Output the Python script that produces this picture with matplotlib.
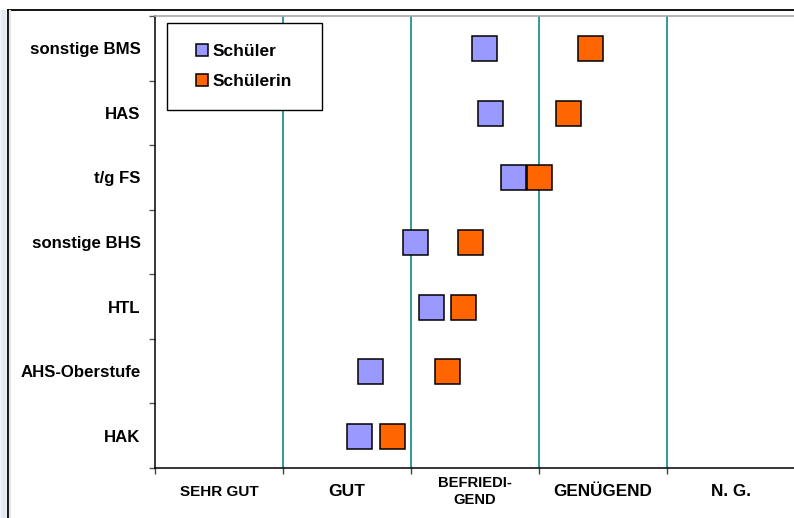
import numpy as np
import matplotlib
matplotlib.use("Agg")
import matplotlib.pyplot as plt
from matplotlib.lines import Line2D

# School types (bottom to top) and mean grades per group
schools = ["HAK", "AHS-Oberstufe", "HTL", "sonstige BHS", "t/g FS", "HAS", "sonstige BMS"]
schueler = [2.59, 2.68, 3.16, 3.03, 3.80, 3.62, 3.57]
schuelerin = [2.85, 3.28, 3.41, 3.46, 4.00, 4.23, 4.40]

grade_labels = ["SEHR GUT", "GUT", "BEFRIEDI-\nGEND", "GENÜGEND", "N. G."]
grade_label_sizes = [11, 12.6, 10.6, 12.3, 12.3]

W, H = 794, 518
fig = plt.figure(figsize=(W / 100, H / 100), dpi=100)

# slide frame and soft shading on the left edge
shade = fig.add_axes([0, 0, 7 / W, 1 - 10 / H])
grad = np.linspace(0, 1, 32)[None, :]
shade.imshow(grad, aspect="auto", cmap=matplotlib.colors.LinearSegmentedColormap.from_list(
    "edge", ["#f4f6fa", "#dfe4ee", "#eef1f7"]), extent=[0, 1, 0, 1])
shade.axis("off")
fig.add_artist(Line2D([7.5 / W, 1], [1 - 9.5 / H, 1 - 9.5 / H], color="black", lw=1.3))
fig.add_artist(Line2D([7.5 / W, 7.5 / W], [0, 1 - 9.5 / H], color="black", lw=1.3))
fig.add_artist(Line2D([9.5 / W, 9.5 / W], [0, 1 - 11 / H], color="#e6e6e6", lw=1.5))

ax = fig.add_axes([155 / W, 1 - 468 / H, 640 / W, 452 / H])
ax.set_xlim(1, 6)
ax.set_ylim(-0.5, len(schools) - 0.5)

# vertical grade separators
for g in range(2, 6):
    ax.axvline(g, color="#2e9c9a", lw=1.4, zorder=1)

ypos = np.arange(len(schools))
ax.plot(schueler, ypos, ls="none", marker="s", ms=18, mfc="#9999FF", mec="black",
        mew=1.1, label="Schüler", zorder=3)
ax.plot(schuelerin, ypos, ls="none", marker="s", ms=18, mfc="#FF6600", mec="black",
        mew=1.1, label="Schülerin", zorder=3)

ax.spines["right"].set_visible(False)
ax.spines["top"].set_color("#a8a8a8")
ax.spines["top"].set_linewidth(1.2)
ax.spines["left"].set_linewidth(1.1)
ax.spines["bottom"].set_linewidth(1.1)

# y axis: labels at row centres, ticks at row boundaries
ax.set_yticks(ypos)
ax.set_yticklabels(schools, fontsize=12.1, fontweight="bold", family="Liberation Sans")
ax.tick_params(axis="y", which="major", length=0, pad=10.5)
ax.set_yticks(np.arange(-0.5, len(schools), 1), minor=True)
ax.tick_params(axis="y", which="minor", length=4, width=1, color="#555555")

# x axis: ticks at grade boundaries, labels between them
ax.set_xticks(np.arange(1, 7))
ax.set_xticklabels([])
ax.tick_params(axis="x", which="major", length=4, width=1, color="#444444")
ax.set_xticks(np.arange(1.5, 6, 1), minor=True)
ax.set_xticklabels(grade_labels, minor=True)
ax.tick_params(axis="x", which="minor", length=0, pad=17)
for lab, fs in zip(ax.get_xticklabels(minor=True), grade_label_sizes):
    lab.set_family("Liberation Sans")
    lab.set_fontweight("bold")
    lab.set_fontsize(fs)
    lab.set_va("center")
    lab.set_linespacing(1.3)

leg = ax.legend(loc="upper left", bbox_to_anchor=(12 / 640, 1 - 7 / 452, 155 / 640, 0),
                mode="expand", frameon=True, fancybox=False, framealpha=1,
                edgecolor="black", markerscale=0.47, handlelength=1.65,
                handletextpad=-0.2, borderpad=1.18, labelspacing=0.88,
                borderaxespad=0, prop={"family": "Liberation Sans", "weight": "bold", "size": 12.5})
leg.get_frame().set_linewidth(1.0)

fig.savefig("out.png", dpi=100)
